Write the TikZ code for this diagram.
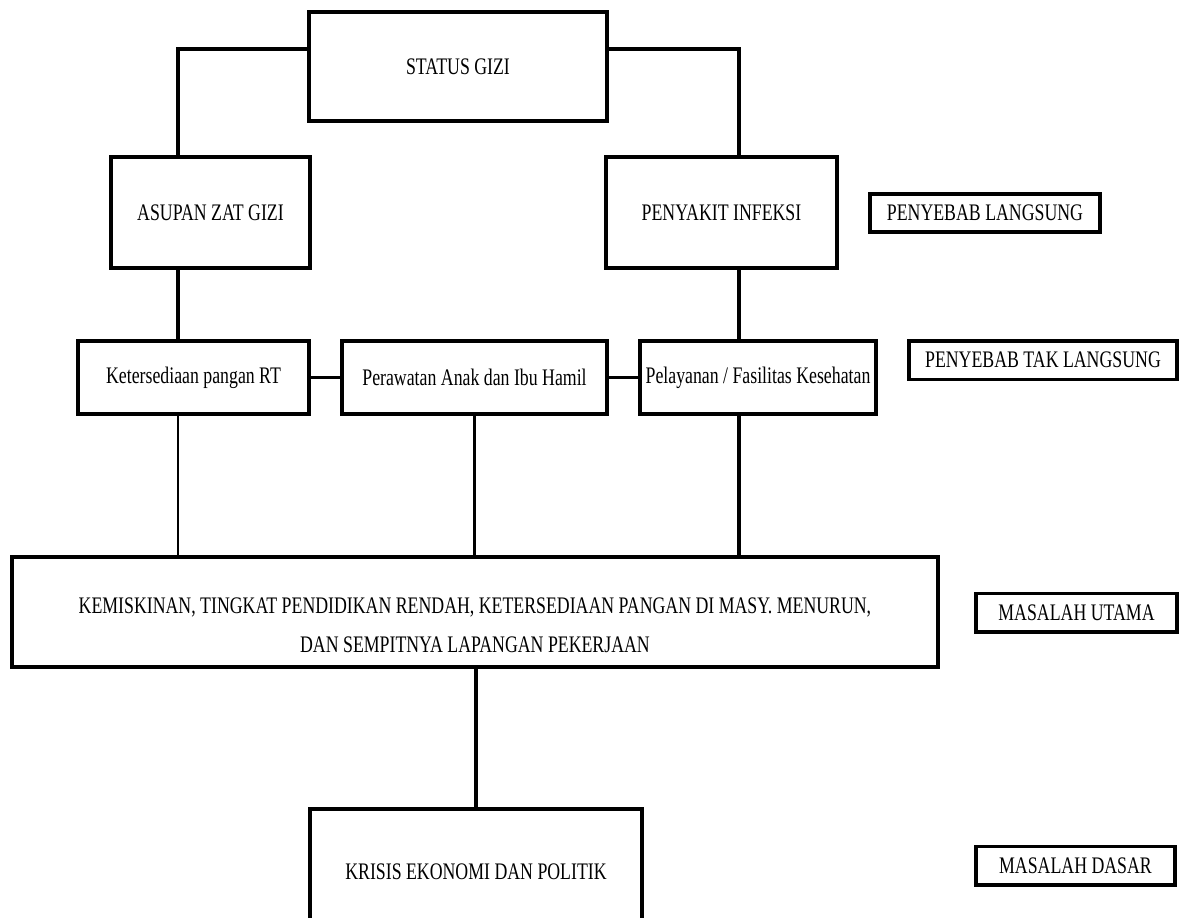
\documentclass[tikz,border=0pt]{standalone}
\usepackage{fontspec}
\setmainfont{Liberation Serif}[FakeStretch=0.75]
\usetikzlibrary{positioning}

\begin{document}
\begin{tikzpicture}[x=0.02cm, y=-0.02cm,
    font=\fontsize{13.5}{15}\selectfont,
    box/.style={rectangle, draw=black, line width=2pt, inner sep=0pt, align=center},
    tag/.style={rectangle, draw=black, line width=2pt, inner sep=0pt, minimum height=0.77cm},
    link/.style={line width=1.8pt, black}
  ]
    \useasboundingbox (0,0) rectangle (1179,917);
    \clip (0,0) rectangle (1179,917);

    % penyebab langsung
    \node[box, minimum width=5.96cm, minimum height=2.18cm] (status) at (458,66.5) {STATUS GIZI};
    \node[box, minimum width=3.98cm, minimum height=2.22cm] (asupan) at (210.5,212.5) {ASUPAN ZAT GIZI};
    \node[box, minimum width=4.62cm, minimum height=2.22cm] (infeksi) at (721.5,212.5) {PENYAKIT INFEKSI};

    % penyebab tak langsung
    \node[box, minimum width=4.62cm, minimum height=1.46cm] (pangan) at (193.5,377.5) {Ketersediaan pangan RT};
    \node[box, minimum width=5.30cm, minimum height=1.46cm] (perawatan) at (474.5,377.5) {Perawatan Anak dan Ibu Hamil};
    \node[box, minimum width=4.72cm, minimum height=1.46cm] (pelayanan) at (758,377.5) {Pelayanan / Fasilitas Kesehatan};

    % masalah utama dan dasar
    \node[box, minimum width=18.52cm, minimum height=2.2cm, font=\fontsize{13.5}{22}\selectfont] (utama) at (475,612)
        {\rule{0pt}{24pt}KEMISKINAN, TINGKAT PENDIDIKAN RENDAH, KETERSEDIAAN PANGAN DI MASY. MENURUN,\\
         DAN SEMPITNYA LAPANGAN PEKERJAAN};
    \node[box, minimum width=6.64cm, minimum height=2.52cm] (krisis) at (476,872) {KRISIS EKONOMI DAN POLITIK};

    % keterangan
    \node[tag, minimum width=4.6cm] (tagLangsung) at (985,213) {PENYEBAB LANGSUNG};
    \node[tag, minimum width=5.36cm] (tagTakLangsung) at (1043,360) {PENYEBAB TAK LANGSUNG};
    \node[tag, minimum width=4.02cm] (tagUtama) at (1076.5,612.5) {MASALAH UTAMA};
    \node[tag, minimum width=3.98cm] (tagDasar) at (1075.5,865.5) {MASALAH DASAR};

    \coordinate (lt) at (178,49);
    \coordinate (rt) at (739,49);

    \draw[link] (status.west |- lt) -| (asupan.north -| lt);
    \draw[link] (status.east |- rt) -| (infeksi.north -| rt);
    \draw[link] (asupan.south -| lt) -- (pangan.north -| lt);
    \draw[link] (infeksi.south -| rt) -- (pelayanan.north -| rt);
    \draw[link] (pangan.east) -- (perawatan.west);
    \draw[link] (perawatan.east) -- (pelayanan.west);
    \draw[link, line width=1.2pt] (pangan.south -| lt) -- (utama.north -| lt);
    \draw[link] (perawatan.south) -- (utama.north -| perawatan.south);
    \draw[link] (pelayanan.south -| rt) -- (utama.north -| rt);
    \draw[link] (utama.south -| krisis.north) -- (krisis.north);
\end{tikzpicture}
\end{document}
